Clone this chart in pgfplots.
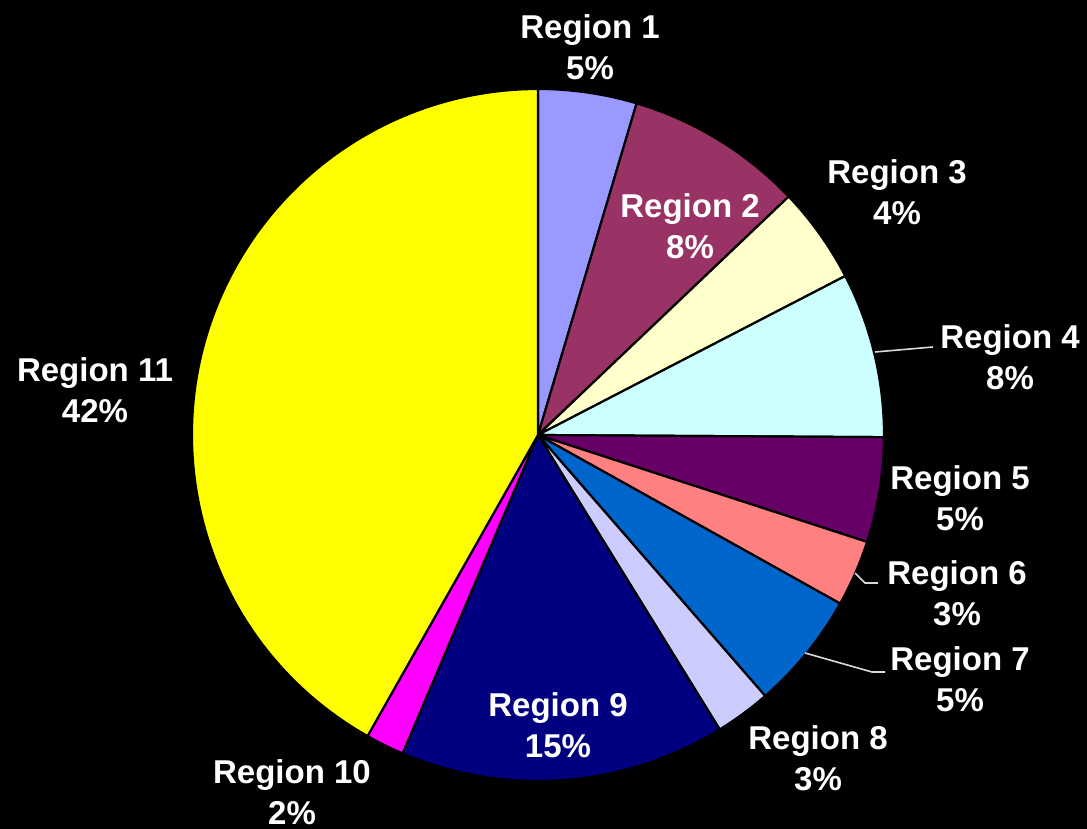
\documentclass[border=0pt]{standalone}
\usepackage{pgfplots}
\usepackage{pgfplotstable}
\pgfplotsset{compat=1.18}
\usepackage{fontspec}
\setmainfont{Liberation Sans}

\definecolor{s0}{HTML}{9999FF}
\definecolor{s1}{HTML}{993366}
\definecolor{s2}{HTML}{FFFFCC}
\definecolor{s3}{HTML}{CCFFFF}
\definecolor{s4}{HTML}{660066}
\definecolor{s5}{HTML}{FF8080}
\definecolor{s6}{HTML}{0066CC}
\definecolor{s7}{HTML}{CCCCFF}
\definecolor{s8}{HTML}{000080}
\definecolor{s9}{HTML}{FF00FF}
\definecolor{s10}{HTML}{FFFF00}

\tikzset{lab/.style={text=white, align=center,
    font=\fontsize{16.5}{20.5}\selectfont\bfseries, inner sep=0pt}}

% share (%), shown percent, label centre (x right, y up, pixel units)
\pgfplotstableread{
value pct lx ly
4.6  5  590 782
8.3  8  690 603
4.5  4  897 637
7.7  8  1010 472
4.9  5  960 331
3.1  3  957 236
5.5  5  960 150
2.6  3  818 71
15.2 15 558 104
1.8  2  292 37
41.8 42 95 439
}\piedata

% turn the shares into slices (clockwise from the top)
\def\cum{0}
\gdef\piepaths{}
\pgfplotsforeachungrouped \i in {0,...,10}{%
  \pgfplotstablegetelem{\i}{value}\of\piedata \let\v\pgfplotsretval
  \pgfplotstablegetelem{\i}{pct}\of\piedata \let\pct\pgfplotsretval
  \pgfplotstablegetelem{\i}{lx}\of\piedata \let\lx\pgfplotsretval
  \pgfplotstablegetelem{\i}{ly}\of\piedata \let\ly\pgfplotsretval
  \pgfmathsetmacro\sa{90-3.6*\cum}%
  \pgfmathsetmacro\ea{90-3.6*(\cum+\v)}%
  \pgfmathsetmacro\cum{\cum+\v}%
  \pgfmathtruncatemacro\n{\i+1}%
  \xdef\piepaths{\unexpanded\expandafter{\piepaths}
    \noexpand\fill[fill=s\i, draw=black, line width=1.1pt]
      (axis cs:538,394) -- ++(\sa:173pt)
      arc[start angle=\sa, end angle=\ea, radius=173pt] -- cycle;
    \noexpand\node[lab] at (axis cs:\lx,\ly) {Region \n\noexpand\\\pct\noexpand\%};}%
}

\begin{document}
\begin{tikzpicture}
\begin{axis}[
    x=0.5pt, y=0.5pt,
    xmin=0, xmax=1087, ymin=0, ymax=829,
    hide axis,
    clip=false,
]
\fill[black] (axis cs:0,0) rectangle (axis cs:1087,829);
\piepaths
% leader lines
\draw[white!85!black, line width=0.8pt] (axis cs:875,477) -- (axis cs:933,482);
\draw[white!85!black, line width=0.8pt] (axis cs:855,256) -- (axis cs:865,246) -- (axis cs:878,246);
\draw[white!85!black, line width=0.8pt] (axis cs:805,176) -- (axis cs:872,157) -- (axis cs:885,157);
\end{axis}
\end{tikzpicture}
\end{document}
